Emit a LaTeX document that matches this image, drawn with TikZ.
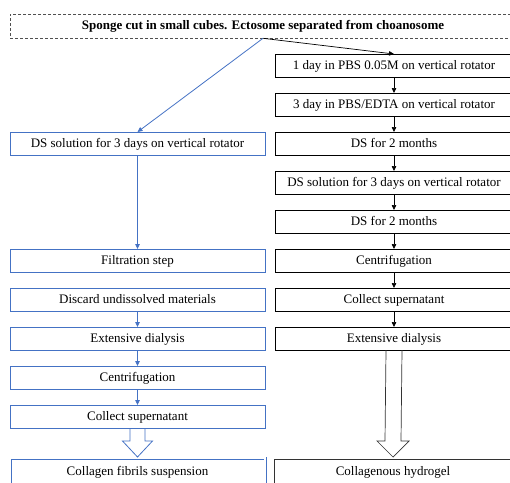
\documentclass[tikz,border=0pt]{standalone}
\usepackage{fontspec}
\setmainfont{Liberation Serif}
\usetikzlibrary{arrows.meta, positioning, calc}
\definecolor{stepblue}{RGB}{68,114,196}
\definecolor{stepgray}{RGB}{80,80,80}
\tikzset{
  topbox/.style={
    rectangle, draw=stepgray, dash pattern=on 3pt off 2pt, line width=0.6pt,
    minimum width=506pt, minimum height=24pt, inner sep=2pt,
    font=\fontsize{13}{15}\selectfont\bfseries, text=black
  },
  leftbox/.style={
    rectangle, draw=stepblue, line width=0.8pt, minimum width=255pt,
    minimum height=23pt, inner sep=2pt, outer sep=0pt,
    text height=9.5pt, text depth=2.5pt,
    font=\fontsize{13}{15}\selectfont, text=black
  },
  rightbox/.style={
    rectangle, draw=black, line width=0.6pt, minimum width=238pt,
    minimum height=23pt, inner sep=2pt, outer sep=0pt,
    text height=9.5pt, text depth=2.5pt,
    font=\fontsize{13}{15}\selectfont, text=black
  },
  finalleft/.style={
    leftbox, double, double distance=1.6pt, line width=0.7pt,
    minimum width=255pt, minimum height=27pt
  },
  finalright/.style={
    rightbox, draw=black!80, double, double distance=1.6pt, line width=0.7pt,
    minimum width=240pt, minimum height=27pt
  },
  arrowblue/.style={-{Triangle[length=5pt,width=4.5pt]}, line width=0.8pt, color=stepblue},
  arrowblack/.style={-{Triangle[length=5pt,width=4.5pt]}, line width=0.7pt, color=black},
  hollowblue/.style={draw=stepblue, line width=0.8pt, line join=miter},
  hollowblack/.style={draw=black!80, line width=0.7pt, line join=miter}
}

\begin{document}
\begin{tikzpicture}[x=1pt, y=-1pt]
  \useasboundingbox (0,0) rectangle (510,482);

  % Starting material
  \node[topbox] (sponge) at (263,26)
    {Sponge cut in small cubes. Ectosome separated from choanosome};

  % Right path
  \node[rightbox, anchor=north] (r_pbs) at (394,54)
    {1 day in PBS 0.05M on vertical rotator};
  \node[rightbox, below=16pt of r_pbs] (r_edta)
    {3 day in PBS/EDTA on vertical rotator};
  \node[rightbox, below=16pt of r_edta] (r_ds1) {DS for 2 months};
  \node[rightbox, below=16pt of r_ds1] (r_sol)
    {DS solution for 3 days on vertical rotator};
  \node[rightbox, below=16pt of r_sol] (r_ds2) {DS for 2 months};
  \node[rightbox, below=16pt of r_ds2] (r_cent) {Centrifugation};
  \node[rightbox, below=16pt of r_cent] (r_coll) {Collect supernatant};
  \node[rightbox, below=16pt of r_coll] (r_dial) {Extensive dialysis};

  \draw[arrowblack] (sponge.south) -- (r_pbs.north);
  \draw[arrowblack] (r_pbs) -- (r_edta);
  \draw[arrowblack] (r_edta) -- (r_ds1);
  \draw[arrowblack] (r_ds1) -- (r_sol);
  \draw[arrowblack] (r_sol) -- (r_ds2);
  \draw[arrowblack] (r_ds2) -- (r_cent);
  \draw[arrowblack] (r_cent) -- (r_coll);
  \draw[arrowblack] (r_coll) -- (r_dial);

  % Left path
  \node[leftbox, left=10pt of r_ds1] (l_sol)
    {DS solution for 3 days on vertical rotator};
  \node[leftbox, left=10pt of r_cent] (l_filt) {Filtration step};
  \node[leftbox, left=10pt of r_coll] (l_disc) {Discard undissolved materials};
  \node[leftbox, left=10pt of r_dial] (l_dial) {Extensive dialysis};
  \node[leftbox, below=16pt of l_dial] (l_cent) {Centrifugation};
  \node[leftbox, below=16pt of l_cent] (l_coll) {Collect supernatant};

  \draw[arrowblue] (sponge.south) -- (l_sol.north);
  \draw[arrowblue] (l_sol) -- (l_filt);
  \draw[arrowblue] (l_disc) -- (l_dial);
  \draw[arrowblue] (l_dial) -- (l_cent);
  \draw[arrowblue] (l_cent) -- (l_coll);

  % Products
  \node[finalleft, below=30pt of l_coll] (l_fib) {Collagen fibrils suspension};
  \node[finalright, right=8pt of l_fib] (r_gel) {Collagenous hydrogel};

  \draw[hollowblue] ($(l_coll.south)+(-7.5pt,0)$) -- ($(l_fib.north)+(-7.5pt,17pt)$)
    -- ($(l_fib.north)+(-15pt,17pt)$) -- ($(l_fib.north)+(0,1pt)$)
    -- ($(l_fib.north)+(15pt,17pt)$) -- ($(l_fib.north)+(7.5pt,17pt)$)
    -- ($(l_coll.south)+(7.5pt,0)$);
  \draw[hollowblack] ($(r_dial.south)+(-8pt,0)$) -- ($(r_gel.north)+(-8pt,17pt)$)
    -- ($(r_gel.north)+(-16pt,17pt)$) -- ($(r_gel.north)+(0,1pt)$)
    -- ($(r_gel.north)+(16pt,17pt)$) -- ($(r_gel.north)+(8pt,17pt)$)
    -- ($(r_dial.south)+(8pt,0)$);
\end{tikzpicture}
\end{document}
